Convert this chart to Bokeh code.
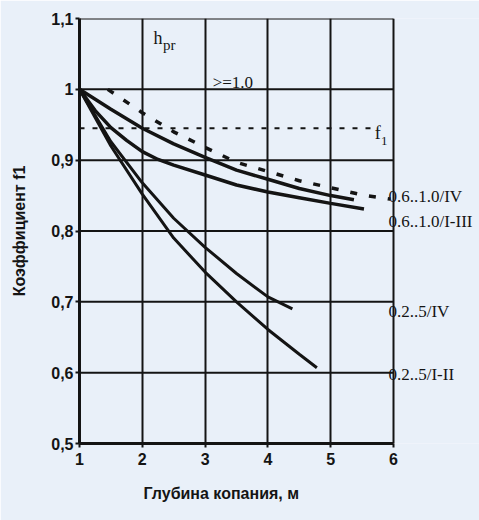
from bokeh.plotting import figure
from bokeh.models import Range1d, FixedTicker, Label, Title
from bokeh.embed import file_html
from bokeh.resources import INLINE

# ---- data ----
x_ticks = [1, 2, 3, 4, 5, 6]
y_ticks = [0.5, 0.6, 0.7, 0.8, 0.9, 1.0, 1.1]
y_tick_labels = ["0,5", "0,6", "0,7", "0,8", "0,9", "1", "1,1"]

# 0.6..1.0 / IV
depth_a = [1.0, 1.5, 2.0, 2.5, 3.0, 3.5, 4.0, 4.5, 5.0, 5.37]
f1_a = [1.0, 0.972, 0.945, 0.923, 0.904, 0.886, 0.873, 0.860, 0.850, 0.844]
# 0.6..1.0 / I-III
depth_b = [1.0, 1.25, 1.5, 1.75, 2.0, 2.25, 2.5, 3.0, 3.5, 4.0, 4.5, 5.0, 5.53]
f1_b = [1.0, 0.970, 0.946, 0.928, 0.912, 0.901, 0.893, 0.879, 0.865, 0.855, 0.847, 0.839, 0.831]
# 0.2..5 / IV
depth_c = [1.0, 1.5, 2.0, 2.5, 3.0, 3.5, 4.0, 4.39]
f1_c = [1.0, 0.926, 0.868, 0.818, 0.777, 0.740, 0.707, 0.690]
# 0.2..5 / I-II
depth_d = [1.0, 1.5, 2.0, 2.5, 3.0, 3.5, 4.0, 4.5, 4.78]
f1_d = [1.0, 0.920, 0.852, 0.790, 0.742, 0.700, 0.661, 0.626, 0.607]
# h_pr >= 1.0 (dashed)
depth_lim = [1.45, 1.7, 2.0, 2.5, 3.0, 3.5, 4.0, 4.5, 5.0, 5.5, 5.95]
f1_lim = [1.0, 0.985, 0.967, 0.940, 0.918, 0.897, 0.884, 0.871, 0.861, 0.851, 0.845]
# f1 level (horizontal dashed)
depth_lvl = [1.0, 5.67]
f1_lvl = [0.945, 0.945]

curve_labels = ["0.6..1.0/IV", "0.6..1.0/I-III", "0.2..5/IV", "0.2..5/I-II"]
curve_label_y = [0.849, 0.814, 0.686, 0.597]

BG = "#e9f0f9"
INK = "#141414"

X0, X1 = 1, 6
# frame is wider than the gridded box so that the right-hand labels are not clipped
FRAME_W = 400          # px
BOX_W = 314            # px between x=1 and x=6
x_end = X0 + (X1 - X0) * FRAME_W / BOX_W

p = figure(width=479, height=520, output_backend="svg", toolbar_location=None,
           x_range=Range1d(X0, x_end), y_range=Range1d(0.5, 1.1),
           min_border_left=79, min_border_right=0, min_border_top=18, min_border_bottom=77,
           background_fill_color=BG, border_fill_color=BG)

p.outline_line_color = None

p.xaxis.ticker = FixedTicker(ticks=x_ticks)
p.yaxis.ticker = FixedTicker(ticks=y_ticks)
p.yaxis.major_label_overrides = {t: s for t, s in zip(y_ticks, y_tick_labels)}
p.xaxis.major_label_overrides = {t: str(t) for t in x_ticks}
p.xaxis.bounds = (X0, X1)

for ax in (p.xaxis, p.yaxis):
    ax.axis_line_color = INK
    ax.axis_line_width = 3
    ax.major_tick_line_color = INK
    ax.major_tick_line_width = 2
    ax.major_tick_in = 0
    ax.major_tick_out = 4
    ax.minor_tick_line_color = None
    ax.major_label_text_font = "Liberation Sans"
    ax.major_label_text_font_size = "16px"
    ax.major_label_text_font_style = "bold"
    ax.major_label_text_color = INK
    ax.axis_label_text_font = "Liberation Sans"
    ax.axis_label_text_font_size = "16px"
    ax.axis_label_text_font_style = "bold"
    ax.axis_label_text_color = INK

p.yaxis.major_label_standoff = 2
p.xaxis.major_label_standoff = 5
p.yaxis.axis_label = "Коэффициент f1"
p.yaxis.axis_label_standoff = 20

# x-axis caption placed under the gridded box (not the wider frame)
p.add_layout(Title(text="Глубина копания, м", align="left", offset=64, standoff=30,
                   text_font="Liberation Sans", text_font_size="16px",
                   text_font_style="bold", text_color=INK), "below")

# vertical grid from the axis ticker; horizontal grid drawn only across the box
p.xgrid.grid_line_color = INK
p.xgrid.grid_line_width = 2
p.ygrid.grid_line_color = None
p.segment(x0=[X0] * len(y_ticks), y0=y_ticks, x1=[X1] * len(y_ticks), y1=y_ticks,
          line_color=INK, line_width=2)

p.line(depth_a, f1_a, line_color=INK, line_width=3.5)
p.line(depth_b, f1_b, line_color=INK, line_width=3.5)
p.line(depth_c, f1_c, line_color=INK, line_width=3)
p.line(depth_d, f1_d, line_color=INK, line_width=3)
p.line(depth_lim, f1_lim, line_color=INK, line_width=3.5, line_dash="7 12")
p.line(depth_lvl, f1_lvl, line_color=INK, line_width=2, line_dash="5 8")

serif = "Liberation Serif"
for txt, yv in zip(curve_labels, curve_label_y):
    p.add_layout(Label(x=5.92, y=yv, text=txt, text_font=serif, text_font_size="17px",
                       text_color=INK, text_baseline="middle", text_align="left"))

p.add_layout(Label(x=2.18, y=1.073, text="h", text_font=serif, text_font_size="18px",
                   text_color=INK, text_baseline="alphabetic"))
p.add_layout(Label(x=2.33, y=1.062, text="pr", text_font=serif, text_font_size="15px",
                   text_color=INK, text_baseline="alphabetic"))
p.add_layout(Label(x=3.12, y=1.009, text=">=1.0", text_font=serif, text_font_size="17px",
                   text_color=INK, text_baseline="alphabetic"))
p.add_layout(Label(x=5.70, y=0.939, text="f", text_font=serif, text_font_size="18px",
                   text_color=INK, text_baseline="alphabetic"))
p.add_layout(Label(x=5.80, y=0.927, text="1", text_font=serif, text_font_size="13px",
                   text_color=INK, text_baseline="alphabetic"))

open("out.html", "w").write(file_html(p, INLINE))
